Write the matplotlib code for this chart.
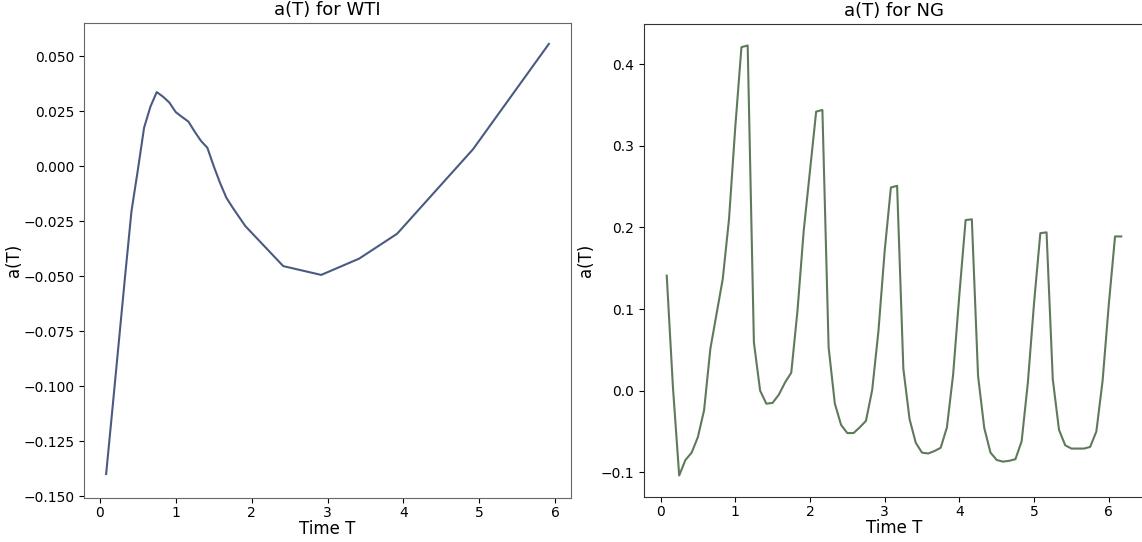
import matplotlib
matplotlib.use("Agg")
import matplotlib.pyplot as plt

# WTI data
wti_T = [0.083, 0.167, 0.25, 0.333, 0.417, 0.5, 0.583, 0.667, 0.75, 0.833, 0.917,
         1.0, 1.083, 1.167, 1.25, 1.333, 1.417, 1.5, 1.583, 1.667, 1.75, 1.917,
         2.417, 2.917, 3.417, 3.917, 4.917, 5.917]
wti_a = [-0.140, -0.110, -0.080, -0.050, -0.0205, -0.002, 0.0174, 0.027, 0.0336, 0.0315, 0.0288,
         0.0245, 0.0223, 0.0202, 0.0156, 0.0114, 0.0083, 0.0, -0.0076, -0.0144, -0.0189, -0.0273,
         -0.0455, -0.0495, -0.0421, -0.0308, 0.0076, 0.0555]

# NG data (monthly)
ng_T = [k / 12 for k in range(1, 75)]
ng_a = [0.141, 0.004, -0.104, -0.085, -0.076, -0.057, -0.024, 0.051, 0.094, 0.137, 0.210, 0.322,
        0.421, 0.423, 0.059, 0.000, -0.016, -0.015, -0.005, 0.010, 0.022, 0.098, 0.196, 0.269,
        0.342, 0.344, 0.053, -0.016, -0.042, -0.052, -0.052, -0.045, -0.037, 0.001, 0.073, 0.171,
        0.249, 0.251, 0.027, -0.035, -0.064, -0.076, -0.077, -0.074, -0.070, -0.045, 0.020, 0.118,
        0.209, 0.210, 0.018, -0.046, -0.076, -0.085, -0.087, -0.086, -0.084, -0.062, 0.010, 0.108,
        0.193, 0.194, 0.014, -0.048, -0.067, -0.071, -0.071, -0.071, -0.069, -0.050, 0.012, 0.106,
        0.189, 0.189]

W, H = 1142, 542
fig = plt.figure(figsize=(W / 100, H / 100), dpi=100)

ax1 = fig.add_axes([84 / W, (H - 498) / H, 487 / W, 475 / H])
ax2 = fig.add_axes([644 / W, (H - 497) / H, 500 / W, 473 / H])

ax1.plot(wti_T, wti_a, color="#4a5a80", lw=1.5)
ax1.set_title("a(T) for WTI", fontsize=13)
ax1.set_xlabel("Time T", fontsize=12, labelpad=0.5)
ax1.set_ylabel("a(T)", fontsize=12, labelpad=0)
ax1.set_yticks([0.05, 0.025, 0.0, -0.025, -0.05, -0.075, -0.1, -0.125, -0.15])
ax1.set_ylim(-0.1509, 0.065)
for s in ax1.spines.values():
    s.set_color("#666666")

ax2.plot(ng_T, ng_a, color="#5e7a5a", lw=1.5)
ax2.set_title("a(T) for NG", fontsize=13)
ax2.set_xlabel("Time T", fontsize=12, labelpad=0.5)
ax2.set_ylabel("a(T)", fontsize=12)
for s in ax2.spines.values():
    s.set_color("#333333")

for ax in (ax1, ax2):
    ax.tick_params(labelsize=10)
    ax.tick_params(axis="x", pad=2)
    ax.set_xticks([0, 1, 2, 3, 4, 5, 6])

fig.savefig("out.png", dpi=100)
